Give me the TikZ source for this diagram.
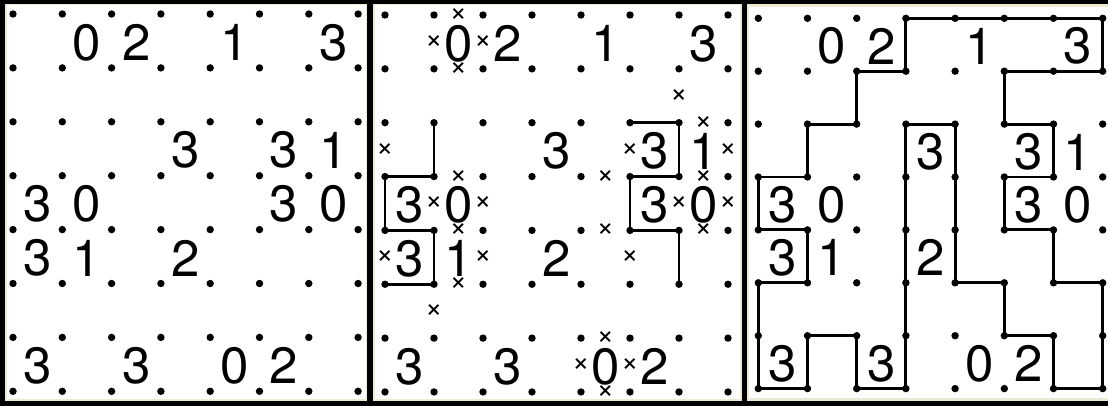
\documentclass[tikz,border=0pt]{standalone}
\usepackage{fontspec}
\setmainfont{TeX Gyre Heros}
\definecolor{cream}{HTML}{EDE9D2}
\begin{document}
\begin{tikzpicture}[x=1pt,y=-1pt,
  dot/.style={circle,fill=black,inner sep=0pt,minimum size=7.4pt},
  clue/.style={font=\fontsize{51}{51}\selectfont,inner sep=0pt,text=black},
  cross/.style={font=\fontsize{30}{30}\selectfont,inner sep=0pt,text=black},
  loopline/.style={line width=2.9pt,line join=miter,line cap=round}]
\useasboundingbox (0,0) rectangle (1108,406);
% background and panels
\fill[black] (0,0) rectangle (1108,406);
\fill[cream] (5,4) rectangle (367,401);
\fill[white] (6.5,5.5) rectangle (365.5,399);
\fill[cream] (373,4) rectangle (741.5,401);
\fill[white] (374.5,5.5) rectangle (740,399);
\fill[cream] (747,4) rectangle (1108,401);
\fill[white] (748.5,7) rectangle (1108,398);
% grid coordinates
\foreach \p/\xo/\dx/\yo/\dy in {1/13/49.3/14/53.9, 2/385/49/15/53.85, 3/758.3/49.2/18.3/52.9}{
  \foreach \i in {0,...,7}{
    \foreach \j in {0,...,7}{
      \coordinate (p\p-\i-\j) at ({\xo+\i*\dx},{\yo+\j*\dy});
    }
  }
}
% panel 2 partial lines
\draw[loopline] (p2-1-2) -- (p2-1-3) -- (p2-0-3) -- (p2-0-4) -- (p2-1-4) -- (p2-1-5) -- (p2-0-5);
\draw[loopline] (p2-5-2) -- (p2-6-2) -- (p2-6-3) -- (p2-5-3) -- (p2-5-4) -- (p2-6-4) -- (p2-6-5);
% panel 3 solution loop
\draw[loopline] (p3-3-0) -- (p3-7-0) -- (p3-7-1) -- (p3-5-1) -- (p3-5-2) -- (p3-6-2) -- (p3-6-3) -- (p3-5-3) -- (p3-5-4) -- (p3-6-4) -- (p3-6-5) -- (p3-7-5) -- (p3-7-7) -- (p3-6-7) -- (p3-6-6) -- (p3-5-6) -- (p3-5-5) -- (p3-4-5) -- (p3-4-2) -- (p3-3-2) -- (p3-3-7) -- (p3-2-7) -- (p3-2-6) -- (p3-1-6) -- (p3-1-7) -- (p3-0-7) -- (p3-0-5) -- (p3-1-5) -- (p3-1-4) -- (p3-0-4) -- (p3-0-3) -- (p3-1-3) -- (p3-1-2) -- (p3-2-2) -- (p3-2-1) -- (p3-3-1) -- cycle;
% dots
\foreach \p in {1,2,3}{
  \foreach \i in {0,...,7}{
    \foreach \j in {0,...,7}{
      \node[dot] (d\p-\i-\j) at (p\p-\i-\j) {};
    }
  }
}
% clues
\foreach \p/\xo/\dx/\yo/\dy in {1/13/49.3/14/53.9, 2/385/49/15/53.85, 3/758.3/49.2/18.3/52.9}{
  \foreach \c/\r/\v in {1/0/0, 2/0/2, 4/0/1, 6/0/3, 3/2/3, 5/2/3, 6/2/1, 0/3/3, 1/3/0, 5/3/3, 6/3/0, 0/4/3, 1/4/1, 3/4/2, 0/6/3, 2/6/3, 4/6/0, 5/6/2}{
    \node[clue] (c\p-\c-\r) at ({\xo+(\c+0.5)*\dx},{\yo+(\r+0.5)*\dy+1.5}) {\v};
  }
}
% crosses in panel 2
\foreach \i/\j in {1/0,1/1,1/3,1/4,1/5,4/3,4/4,6/2,6/3,6/4,4/6,4/7}{
  \node[cross] (hx-\i-\j) at ({385+(\i+0.5)*49},{15+\j*53.85}) {×};
}
\foreach \i/\j in {1/0,2/0,6/1,0/2,5/2,7/2,1/3,2/3,6/3,7/3,0/4,2/4,5/4,1/5,4/6,5/6}{
  \node[cross] (vx-\i-\j) at ({385+\i*49},{15+(\j+0.5)*53.85}) {×};
}
\end{tikzpicture}
\end{document}
